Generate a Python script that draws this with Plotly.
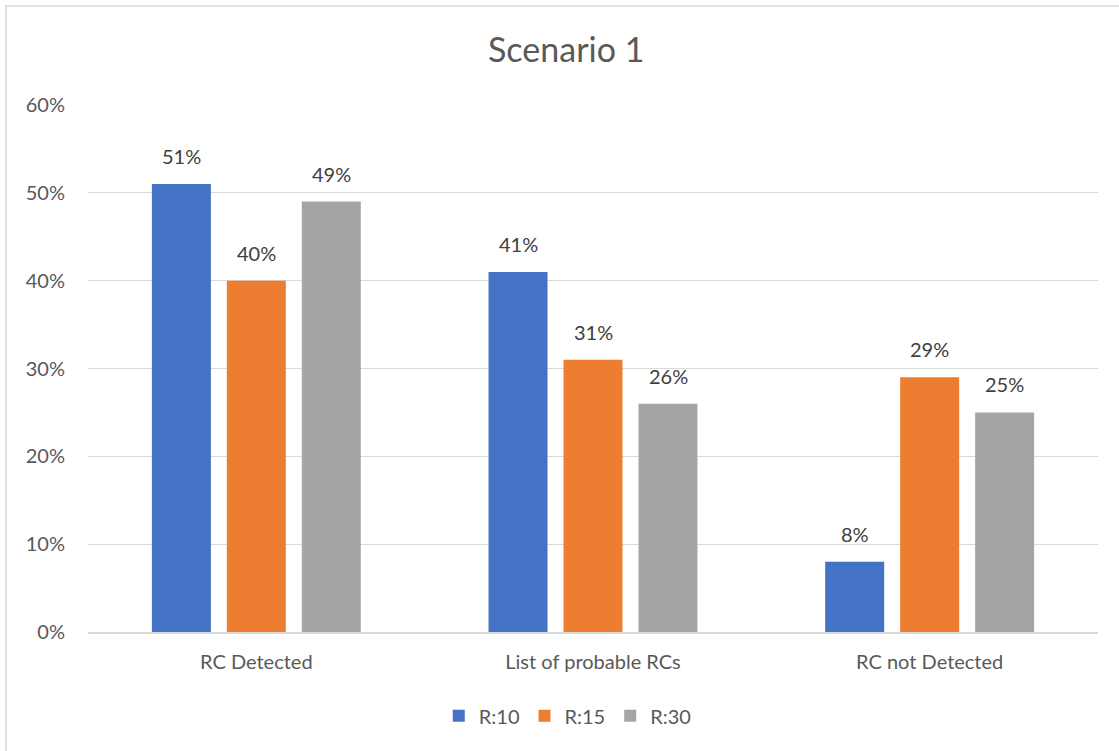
import plotly.graph_objects as go

categories = ["RC Detected", "List of probable RCs", "RC not Detected"]
series_names = ["R:10", "R:15", "R:30"]
r10 = [0.51, 0.41, 0.08]
r15 = [0.40, 0.31, 0.29]
r30 = [0.49, 0.26, 0.25]
colors = ["#4472C4", "#ED7D31", "#A5A5A5"]
y_ticks = [0, 0.1, 0.2, 0.3, 0.4, 0.5, 0.6]

FONT = "Lato, Open Sans, sans-serif"
TEXT = "#595959"
LABEL = 20

fig = go.Figure()
for name, vals, col in zip(series_names, [r10, r15, r30], colors):
    fig.add_trace(go.Bar(
        x=categories, y=vals, name=name,
        marker=dict(color=col, line=dict(width=0)),
    ))

# value labels sit above each bar; horizontal shift follows the group layout
shifts = [-75, 0, 75]
annotations = []
for vals, dx in zip([r10, r15, r30], shifts):
    for cat, v in zip(categories, vals):
        annotations.append(dict(
            x=cat, y=v, xref="x", yref="y", text=f"{v:.0%}",
            showarrow=False, xshift=dx, yshift=14, yanchor="bottom",
            font=dict(family=FONT, size=LABEL, color="#404040"),
        ))

fig.update_layout(
    width=1119, height=751,
    margin=dict(l=88, r=21, t=105, b=119),
    paper_bgcolor="white", plot_bgcolor="white",
    barmode="group", bargap=0.332, bargroupgap=0.213,
    title=dict(text="Scenario 1", x=0.506, xanchor="center", y=0.933, yanchor="middle",
               font=dict(family=FONT, size=34, color=TEXT)),
    font=dict(family=FONT, color=TEXT),
    legend=dict(orientation="h", x=0.475, xanchor="center", y=-0.159, yanchor="middle",
                font=dict(family=FONT, size=LABEL, color=TEXT), itemwidth=30,
                traceorder="normal"),
    xaxis=dict(showgrid=False, showline=True, linecolor="#d9d9d9", linewidth=1.5,
               ticks="", ticklabelstandoff=11,
               tickfont=dict(family=FONT, size=LABEL, color=TEXT)),
    yaxis=dict(range=[0, 0.6], tickvals=y_ticks, tickformat=".0%",
               showgrid=True, gridcolor="#d9d9d9", gridwidth=1.2,
               zeroline=False, showline=False, ticks="",
               ticklabelstandoff=22,
               tickfont=dict(family=FONT, size=LABEL, color=TEXT)),
    annotations=annotations,
    shapes=[dict(type="rect", xref="paper", yref="paper",
                 x0=-0.0812, x1=1.2, y0=-0.6, y1=1.1879,
                 line=dict(color="#d9d9d9", width=1.5), fillcolor="rgba(0,0,0,0)")],
)

fig.write_html("out.html")
